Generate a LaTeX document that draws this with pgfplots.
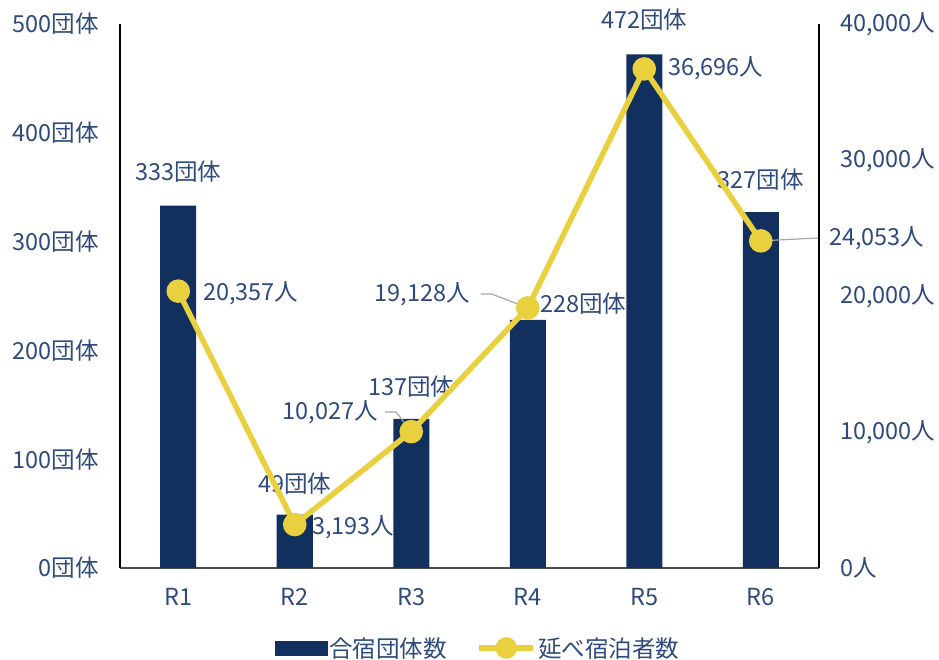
\documentclass[border=0pt]{standalone}
\usepackage{fontspec}
\setmainfont{Noto Sans CJK JP}
\usepackage{pgfplots}
\pgfplotsset{compat=1.18}
\usepackage{pgfplotstable}
\definecolor{barblue}{HTML}{12305E}
\definecolor{lineyel}{HTML}{E8D03E}
\definecolor{txt}{HTML}{2F4A7C}
\definecolor{leader}{HTML}{A6A6A6}

\pgfplotstableread{
x groups people
0 333 20357
1 49 3193
2 137 10027
3 228 19128
4 472 36696
5 327 24053
}\datatable

\begin{document}
\begin{tikzpicture}[font=\fontsize{23.5}{27}\selectfont]
\path[use as bounding box] (-120pt,-92pt) rectangle (819pt,568pt);
\begin{axis}[
  scale only axis, width=699pt, height=544pt, clip=false,
  xmin=-0.5, xmax=5.5, ymin=0, ymax=500,
  xtick=data, xticklabels={R1,R2,R3,R4,R5,R6},
  ytick={0,100,200,300,400,500},
  yticklabels={0団体,100団体,200団体,300団体,400団体,500団体},
  axis x line*=bottom, axis y line*=left,
  x axis line style={-, draw=black!70, line width=1.4pt},
  y axis line style={-, draw=black, line width=1.4pt},
  major tick length=0pt, tick style={draw=none},
  tick label style={text=txt, font=\fontsize{23.5}{27}\selectfont},
  yticklabel style={inner sep=0pt, xshift=-21pt},
  xticklabel style={inner sep=0pt, yshift=-20pt},
]
  \addplot[ybar, bar width=36pt, fill=barblue, draw=none] table[x=x, y=groups] {\datatable};
  \node[text=txt] at (axis cs:0,364) {333団体};
  \node[text=txt] at (axis cs:1,78) {49団体};
  \node[text=txt] at (axis cs:2,167) {137団体};
  \node[text=txt, anchor=west, inner sep=0pt] at (axis cs:3.105,242.6) {228団体};
  \node[text=txt] at (axis cs:4,503.7) {472団体};
  \node[text=txt] at (axis cs:5,356.6) {327団体};
\end{axis}
\begin{axis}[
  scale only axis, width=699pt, height=544pt, clip=false,
  xmin=-0.5, xmax=5.5, ymin=0, ymax=40000,
  axis x line=none, axis y line*=right,
  y axis line style={-, draw=black, line width=1.4pt},
  ytick={0,10000,20000,30000,40000}, scaled y ticks=false,
  yticklabels={{0人},{10,000人},{20,000人},{30,000人},{40,000人}},
  major tick length=0pt, tick style={draw=none},
  tick label style={text=txt, font=\fontsize{23.5}{27}\selectfont},
  yticklabel style={inner sep=0pt, xshift=21pt},
  legend style={at={(0.512,-0.147)}, anchor=center, draw=none, fill=none,
    legend columns=-1, font=\fontsize{23.5}{27}\selectfont, text=txt,
    /tikz/every even column/.append style={column sep=28pt}},
]
  \addlegendimage{legend image code/.code={\fill[barblue] (-4pt,-7pt) rectangle (48pt,7pt);}}
  \addlegendentry{合宿団体数}
  \addplot[lineyel, line width=5.5pt, mark=*, mark size=9pt,
    mark options={fill=lineyel, draw=none},
    legend image code/.code={\draw[lineyel, line width=5.5pt] (-4pt,0pt) -- (50pt,0pt);
      \fill[lineyel] (23pt,0pt) circle (8pt);}]
    table[x=x, y=people] {\datatable};
  \addlegendentry{延べ宿泊者数}
  \draw[leader, line width=1.2pt] (axis cs:1.775,11471) -- (axis cs:1.87,11471) -- (axis cs:2,10027);
  \draw[leader, line width=1.2pt] (axis cs:2.598,20147) -- (axis cs:2.69,20147) -- (axis cs:3,19128);
  \draw[leader, line width=1.2pt] (axis cs:5,24053) -- (axis cs:5.49,24265);
  \node[text=txt, anchor=west, inner sep=0pt] at (axis cs:0.212,20221) {20,357人};
  \node[text=txt, anchor=west, inner sep=0pt] at (axis cs:1.148,3015) {3,193人};
  \node[text=txt, anchor=east, inner sep=0pt] at (axis cs:1.715,11471) {10,027人};
  \node[text=txt, anchor=east, inner sep=0pt] at (axis cs:2.504,20147) {19,128人};
  \node[text=txt, anchor=west, inner sep=0pt] at (axis cs:4.204,36765) {36,696人};
  \node[text=txt, anchor=west, inner sep=0pt] at (axis cs:5.586,24265) {24,053人};
\end{axis}
\end{tikzpicture}
\end{document}
